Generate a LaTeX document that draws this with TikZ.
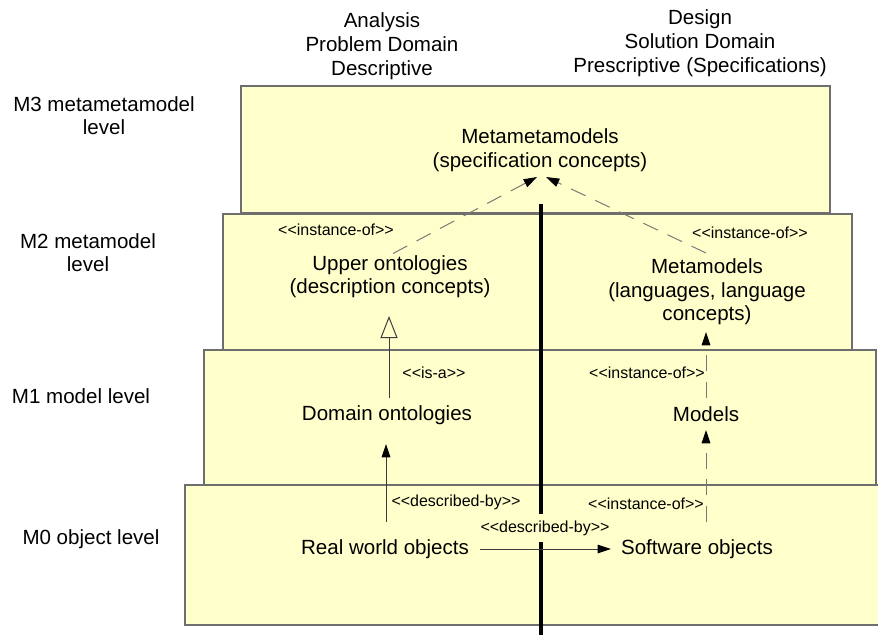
\documentclass[tikz,border=0pt]{standalone}
\usepackage{fontspec}
\setmainfont{Liberation Sans}
\newfontfamily\stereofont{Liberation Sans}[Ligatures=TeXOff]
\usetikzlibrary{arrows.meta,calc,backgrounds}

\definecolor{boxfill}{RGB}{255,255,204}
\definecolor{boxedge}{RGB}{110,110,110}
\definecolor{dashgray}{RGB}{120,120,120}
\definecolor{linegray}{RGB}{60,60,60}

\tikzset{
  maintext/.style={font=\fontsize{15.4}{17.6}\selectfont, align=center, inner sep=0pt},
  headtext/.style={font=\fontsize{15.4}{18}\selectfont, align=center, inner sep=0pt},
  leveltext/.style={font=\fontsize{15.4}{17.4}\selectfont, align=center, inner sep=0pt},
  stereo/.style={font=\stereofont\fontsize{12}{14}\selectfont, inner sep=0pt},
  levelbox/.style={fill=boxfill, draw=boxedge, line width=0.9pt},
  divider/.style={line width=2.3pt, black},
  headtip/.style={-{Triangle[length=10pt,width=6.5pt,color=black]}},
  solidconn/.style={headtip, draw=linegray, line width=0.75pt},
  dashconn/.style={headtip, draw=dashgray, line width=0.75pt, dash pattern=on 12pt off 8pt},
  isaconn/.style={-{Triangle[open,length=16.5pt,width=12.75pt,fill=boxfill,color=linegray]},
                  draw=linegray, line width=0.75pt}
}

\begin{document}
\begin{tikzpicture}[x=0.75pt,y=-0.75pt]
\useasboundingbox (0,0) rectangle (878,635);

% column headings
\node[headtext] (analysis) at (382,46) {Analysis\\Problem Domain\\Descriptive};
\node[headtext] (design) at (700,43) {Design\\Solution Domain\\Prescriptive (Specifications)};

% level names
\node[leveltext] (lvl3) at (104,116) {M3 metametamodel\\level};
\node[leveltext] (lvl2) at (88,253) {M2 metamodel\\level};
\node[leveltext] (lvl1) at (81,396) {M1 model level};
\node[leveltext] (lvl0) at (91,539) {M0 object level};

% model elements
\node[maintext] (meta3) at (540,150) {Metametamodels\\(specification concepts)};
\node[maintext] (upper) at (390,276.5) {Upper ontologies\\(description concepts)};
\node[maintext] (metam) at (707,292) {Metamodels\\(languages, language\\concepts)};
\node[maintext] (domont) at (387,415) {Domain ontologies};
\node[maintext] (models) at (706,414) {Models};
\node[maintext] (real) at (385,549) {Real world objects};
\node[maintext] (soft) at (697,549) {Software objects};

% stereotypes
\node[stereo] (st1) at (336,230) {<<instance-of>>};
\node[stereo] (st2) at (750,233) {<<instance-of>>};
\node[stereo] (st3) at (434,373) {<<is-a>>};
\node[stereo] (st4) at (647,373) {<<instance-of>>};
\node[stereo] (st5) at (456,502) {<<described-by>>};
\node[stereo] (st6) at (646,504) {<<instance-of>>};
\node[stereo, fill=boxfill, inner ysep=5pt] (st7) at (545,528) {<<described-by>>};

% level boxes and the analysis/design divider
\begin{scope}[on background layer]
  \draw[levelbox] (241,86) rectangle (830,213);
  \draw[levelbox] (223,214) rectangle (852,350);
  \draw[levelbox] (204,350) rectangle (876,485);
  \fill[boxfill] (185,485) rectangle (878,625);
  \draw[boxedge, line width=0.9pt] (878,485) -- (185,485) -- (185,625) -- (878,625);
  \coordinate (divtop) at (541,204);
  \coordinate (divbot) at (541,635);
  \draw[divider] (divtop) -- (divbot);
\end{scope}

% relations
\draw[dashconn] ($(upper.center)+(3,-23)$) -- ($(meta3.center)+(-3,27)$);
\draw[dashconn] ($(metam.center)+(-1,-39)$) -- ($(meta3.center)+(6,27)$);
\draw[isaconn] ($(domont.center)+(2,-17)$) -- ($(domont.center)+(2,-99)$);
\draw[solidconn] ($(real.center)+(1,-27)$) -- ($(real.center |- domont.center)+(1,29)$);
\draw[dashconn] ($(models.center |- soft.center)+(0,-27)$) -- ($(models.center)+(0,16)$);
\draw[dashconn] ($(models.center)+(0,-16)$) -- ($(models.center |- metam.center)+(0,40)$);
\draw[solidconn] ($(real.east)+(11,0)$) -- ($(soft.west)+(-10,0)$);

\end{tikzpicture}
\end{document}
